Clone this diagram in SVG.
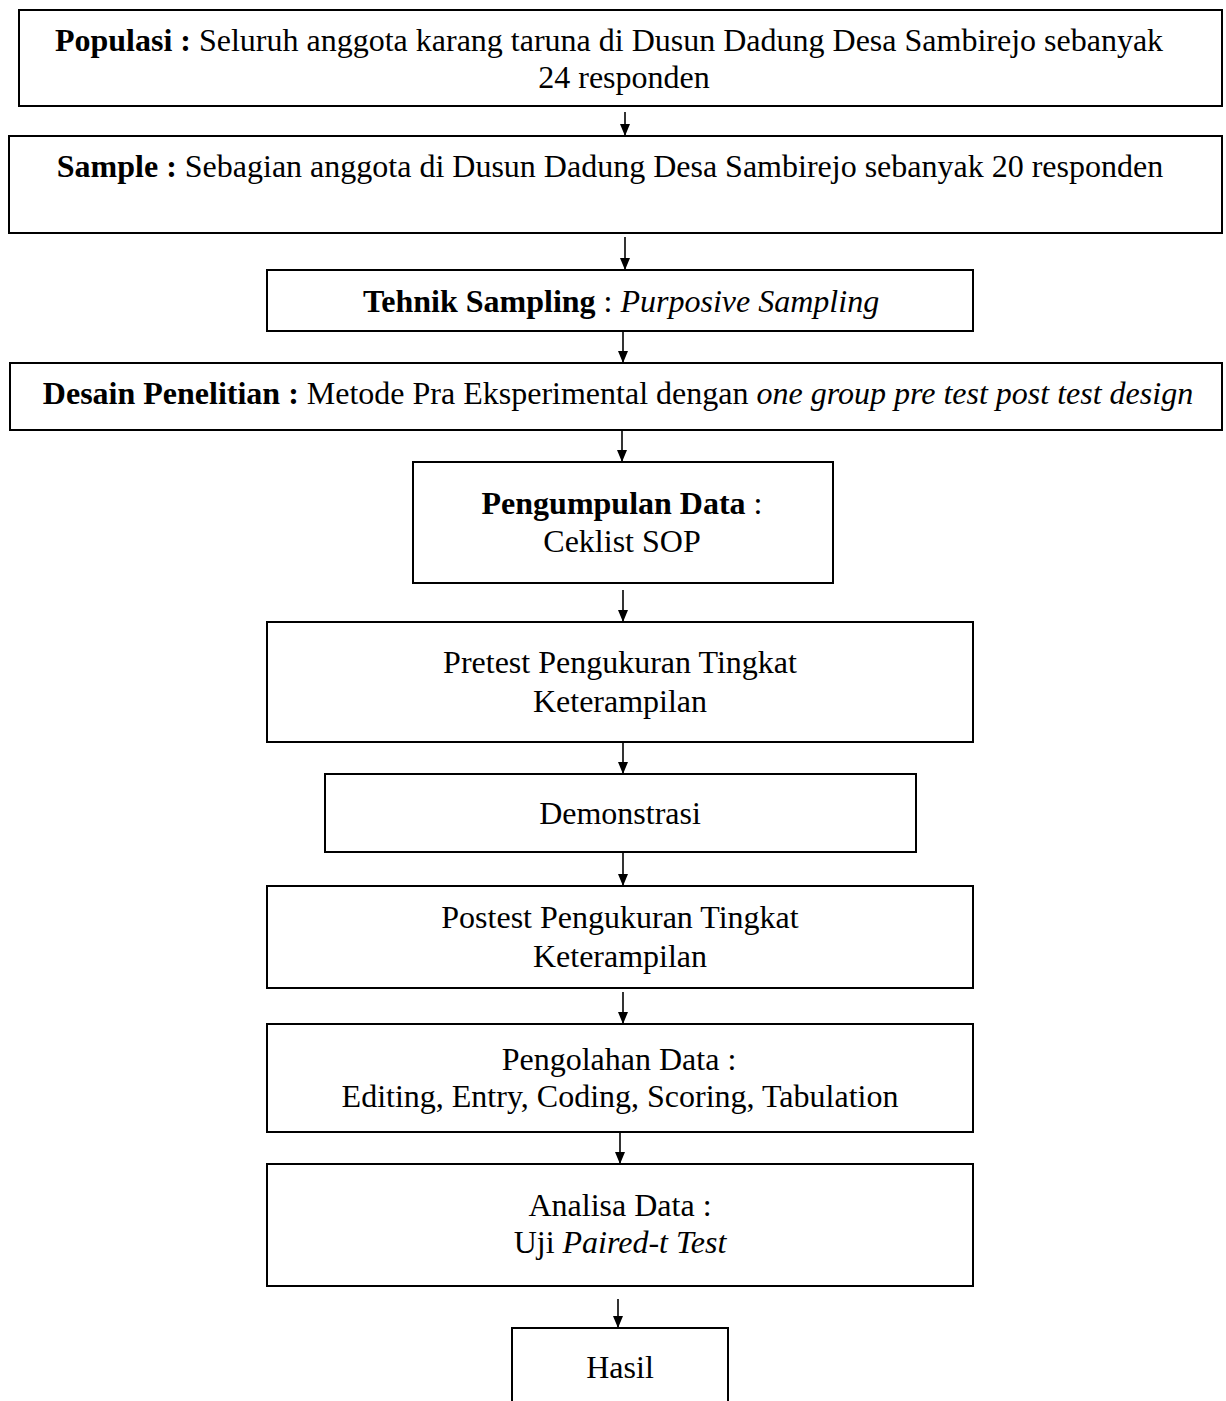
<svg xmlns="http://www.w3.org/2000/svg" width="1226" height="1401" viewBox="0 0 1226 1401">
<defs>
<marker id="ah" markerUnits="userSpaceOnUse" markerWidth="12" markerHeight="10" refX="12" refY="5" orient="auto" viewBox="0 0 12 10">
<path d="M0,0 L12,5 L0,10 Z" fill="#000"/>
</marker>
</defs>
<style>
.box{fill:#fff;stroke:#000;stroke-width:2}
.t{font-family:"Liberation Serif","Times New Roman",serif;font-size:32px;fill:#000;text-anchor:middle}
.b{font-weight:bold}
.i{font-style:italic}
.c line{stroke:#000;stroke-width:1.6;marker-end:url(#ah)}
</style>
<rect width="1226" height="1401" fill="#fff"/>
<g class="c" id="connectors">
<line x1="625" y1="112" x2="625" y2="136"/>
<line x1="625" y1="237" x2="625" y2="270"/>
<line x1="623" y1="331" x2="623" y2="363"/>
<line x1="622" y1="430" x2="622" y2="462"/>
<line x1="623" y1="590" x2="623" y2="622"/>
<line x1="623" y1="742" x2="623" y2="774"/>
<line x1="623" y1="852" x2="623" y2="886"/>
<line x1="623" y1="992" x2="623" y2="1024"/>
<line x1="620" y1="1132" x2="620" y2="1164"/>
<line x1="618" y1="1299" x2="618" y2="1328"/>
</g>
<g id="populasi">
<rect class="box" x="19" y="10" width="1203" height="96"/>
<text class="t" x="609" y="51"><tspan class="b">Populasi :</tspan> Seluruh anggota karang taruna di Dusun Dadung Desa Sambirejo sebanyak</text>
<text class="t" x="624" y="88">24 responden</text>
</g>
<g id="sample">
<rect class="box" x="9" y="136" width="1213" height="97"/>
<text class="t" x="610" y="177"><tspan class="b">Sample :</tspan> Sebagian anggota di Dusun Dadung Desa Sambirejo sebanyak 20 responden</text>
</g>
<g id="tehnik">
<rect class="box" x="267" y="270" width="706" height="61"/>
<text class="t" x="621" y="312"><tspan class="b">Tehnik Sampling</tspan> : <tspan class="i">Purposive Sampling</tspan></text>
</g>
<g id="desain">
<rect class="box" x="10" y="363" width="1212" height="67"/>
<text class="t" x="618" y="404"><tspan class="b">Desain Penelitian :</tspan> Metode Pra Eksperimental dengan <tspan class="i">one group pre test post test design</tspan></text>
</g>
<g id="pengumpulan">
<rect class="box" x="413" y="462" width="420" height="121"/>
<text class="t" x="622" y="514"><tspan class="b">Pengumpulan Data</tspan> :</text>
<text class="t" x="622" y="552">Ceklist SOP</text>
</g>
<g id="pretest">
<rect class="box" x="267" y="622" width="706" height="120"/>
<text class="t" x="620" y="673">Pretest Pengukuran Tingkat</text>
<text class="t" x="620" y="712">Keterampilan</text>
</g>
<g id="demonstrasi">
<rect class="box" x="325" y="774" width="591" height="78"/>
<text class="t" x="620" y="824">Demonstrasi</text>
</g>
<g id="postest">
<rect class="box" x="267" y="886" width="706" height="102"/>
<text class="t" x="620" y="928">Postest Pengukuran Tingkat</text>
<text class="t" x="620" y="967">Keterampilan</text>
</g>
<g id="pengolahan">
<rect class="box" x="267" y="1024" width="706" height="108"/>
<text class="t" x="619" y="1070">Pengolahan Data :</text>
<text class="t" x="620" y="1107">Editing, Entry, Coding, Scoring, Tabulation</text>
</g>
<g id="analisa">
<rect class="box" x="267" y="1164" width="706" height="122"/>
<text class="t" x="620" y="1216">Analisa Data :</text>
<text class="t" x="620" y="1253">Uji <tspan class="i">Paired-t Test</tspan></text>
</g>
<g id="hasil">
<path d="M512,1402 V1328 H728 V1402" fill="#fff" stroke="#000" stroke-width="2"/>
<text class="t" x="620" y="1378">Hasil</text>
</g>
</svg>
